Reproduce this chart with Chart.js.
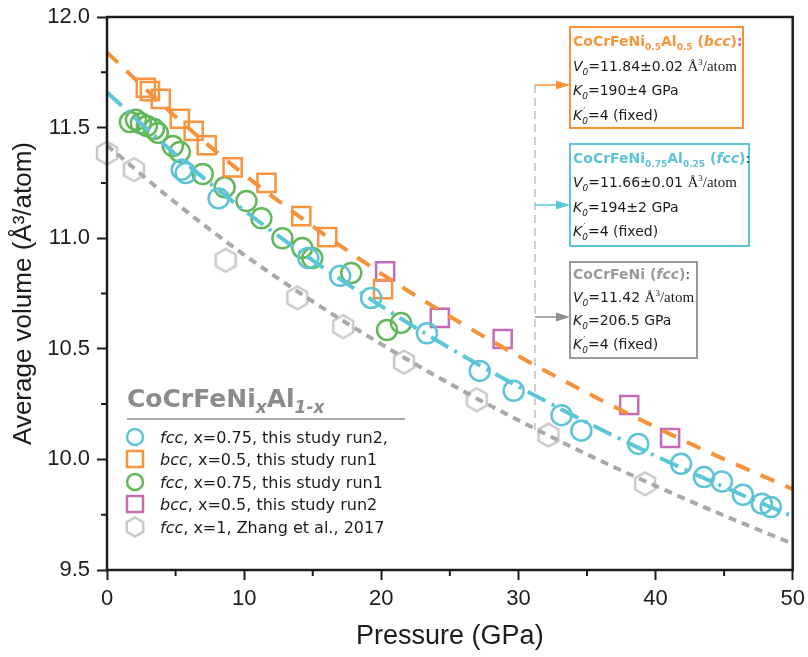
<!DOCTYPE html>
<html><head><meta charset="utf-8">
<script src="https://cdn.jsdelivr.net/npm/chart.js@4.4.0/dist/chart.umd.min.js"></script>
<style>html,body{margin:0;padding:0;background:#fff;}canvas{display:block;}</style>
</head><body>
<canvas id="c" width="808" height="657"></canvas>
<script>
// ---------------- DATA ----------------
const fccRun2P = [5.45, 5.74, 8.14, 14.68, 17.0, 19.26, 23.33, 27.18, 29.65, 33.14, 34.59, 38.74, 41.86, 43.53, 44.84, 46.37, 47.75, 48.40];
const fccRun2V = [11.31, 11.295, 11.18, 10.91, 10.83, 10.73, 10.57, 10.40, 10.31, 10.20, 10.13, 10.07, 9.98, 9.92, 9.90, 9.84, 9.80, 9.785];
const bccRun1P = [2.83, 3.13, 3.92, 5.31, 6.32, 7.27, 9.16, 11.63, 14.17, 16.06, 20.13];
const bccRun1V = [11.68, 11.665, 11.63, 11.54, 11.485, 11.42, 11.32, 11.25, 11.10, 11.005, 10.77];
const fccRun1P = [1.67, 2.11, 2.47, 2.91, 3.42, 3.71, 4.80, 5.31, 6.98, 8.58, 10.17, 11.26, 12.79, 14.24, 14.97, 17.81, 20.42, 21.44];
const fccRun1V = [11.525, 11.535, 11.52, 11.507, 11.494, 11.476, 11.417, 11.39, 11.29, 11.23, 11.168, 11.09, 11.0, 10.956, 10.91, 10.843, 10.585, 10.617];
const bccRun2P = [20.28, 24.27, 28.85, 38.08, 41.06];
const bccRun2V = [10.85, 10.64, 10.544, 10.246, 10.097];
const zhangP = [0, 1.96, 8.65, 13.88, 17.22, 21.66, 26.96, 32.19, 39.24];
const zhangV = [11.385, 11.31, 10.90, 10.73, 10.60, 10.44, 10.27, 10.11, 9.89];
// fitted EOS curves
const fitP = [0, 5, 10, 15, 20, 25, 30, 35, 40, 45, 50];
const fitBccV = [11.84, 11.549, 11.288, 11.054, 10.840, 10.646, 10.467, 10.301, 10.146, 10.001, 9.866];
const fitFccV = [11.66, 11.379, 11.126, 10.900, 10.693, 10.503, 10.329, 10.167, 10.016, 9.875, 9.742];
const fitZhangV = [11.42, 11.160, 10.925, 10.714, 10.521, 10.342, 10.177, 10.023, 9.880, 9.746, 9.619];
const xTicks = [0, 10, 20, 30, 40, 50];
const yTicks = [9.5, 10.0, 10.5, 11.0, 11.5, 12.0];
const xMinor = [5, 15, 25, 35, 45];
const yMinor = [9.75, 10.25, 10.75, 11.25, 11.75];
const legendLabels = [
  ['fcc', ', x=0.75, this study run2,'],
  ['bcc', ', x=0.5, this study run1'],
  ['fcc', ', x=0.75, this study run1'],
  ['bcc', ', x=0.5, this study run2'],
  ['fcc', ', x=1, Zhang et al., 2017']
];

// ---------------- STYLE ----------------
const CYAN = '#5cc4d6', ORANGE = '#f7953f', GREEN = '#62b858', MAGENTA = '#c46cb6', HEX = '#c8c8c8';
const CYANL = '#5ac6d8', ORANGEL = '#f7923a', GRAYL = '#a9a9a9';
const F = '"DejaVu Sans"', SERIF = '"Liberation Serif"', AX = '"Liberation Sans"';
const INK = '#1c1c1c';

function hexCanvas(R, color, lw) {
  const s = Math.ceil(2 * R + lw + 2);
  const c = document.createElement('canvas'); c.width = s; c.height = s;
  const g = c.getContext('2d');
  hexPath(g, s / 2, s / 2, R);
  g.strokeStyle = color; g.lineWidth = lw; g.lineJoin = 'round'; g.stroke();
  return c;
}
function hexPath(g, cx, cy, R) {
  g.beginPath();
  for (let i = 0; i < 6; i++) {
    const a = Math.PI / 2 + i * Math.PI / 3;
    const x = cx + R * Math.cos(a), y = cy - R * Math.sin(a);
    i ? g.lineTo(x, y) : g.moveTo(x, y);
  }
  g.closePath();
}
const hexImg = hexCanvas(11.5, HEX, 2.5);

function pts(P, V) { return P.map((p, i) => ({ x: p, y: V[i] })); }

function runs(ctx, x, y, list) {
  ctx.textBaseline = 'alphabetic'; ctx.textAlign = 'left';
  for (const r of list) {
    ctx.font = r.f; ctx.fillStyle = r.c || INK;
    ctx.fillText(r.t, x + (r.dx || 0), y + (r.dy || 0));
    if (!r.noadv) x += ctx.measureText(r.t).width;
  }
  return x;
}
function arrow(ctx, x1, x2, y, color) {
  ctx.save();
  ctx.strokeStyle = color; ctx.fillStyle = color; ctx.lineWidth = 1.5; ctx.setLineDash([]);
  ctx.beginPath(); ctx.moveTo(x1, y); ctx.lineTo(x2 - 10, y); ctx.stroke();
  ctx.beginPath(); ctx.moveTo(x2, y); ctx.lineTo(x2 - 14, y - 4.5); ctx.lineTo(x2 - 14, y + 4.5); ctx.closePath(); ctx.fill();
  ctx.restore();
}
function boxLines(ctx, x, ys, title, v0, k0) {
  const reg = `14px ${F}`, it = `italic 14px ${F}`, sub = `italic 9px ${F}`;
  runs(ctx, x, ys[0], title);
  runs(ctx, x, ys[1], [
    { t: 'V', f: it }, { t: '0', f: sub, dy: 4 }, { t: '=' + v0 + ' ', f: reg },
    { t: 'Å', f: `15px ${SERIF}` }, { t: '3', f: `9px ${SERIF}`, dy: -6 }, { t: '/atom', f: `15px ${SERIF}` }
  ]);
  runs(ctx, x, ys[2], [{ t: 'K', f: it }, { t: '0', f: sub, dy: 4 }, { t: '=' + k0, f: reg }]);
  runs(ctx, x, ys[3], [{ t: 'K', f: it }, { t: '′', f: `9px ${F}`, dy: -6, dx: 1, noadv: true }, { t: '0', f: sub, dy: 4 }, { t: '=4 (fixed)', f: reg }]);
}

const deco = {
  id: 'deco',
  afterDraw(chart) {
    const ctx = chart.ctx, a = chart.chartArea;
    const xs = chart.scales.x, ys = chart.scales.y;
    ctx.save();
    // frame
    ctx.strokeStyle = INK; ctx.lineWidth = 2.5; ctx.setLineDash([]);
    ctx.strokeRect(a.left, a.top, a.right - a.left, a.bottom - a.top);
    // minor ticks
    ctx.lineWidth = 2;
    ctx.beginPath();
    xMinor.forEach(v => { const p = xs.getPixelForValue(v); ctx.moveTo(p, a.bottom); ctx.lineTo(p, a.bottom + 6); });
    yMinor.forEach(v => { const p = ys.getPixelForValue(v); ctx.moveTo(a.left - 6, p); ctx.lineTo(a.left, p); });
    ctx.stroke();

    // vertical dashed guide + arrows
    ctx.strokeStyle = '#cfcfcf'; ctx.lineWidth = 2; ctx.setLineDash([8, 5]);
    ctx.beginPath(); ctx.moveTo(535, 85); ctx.lineTo(535, 430); ctx.stroke();
    ctx.setLineDash([]);
    arrow(ctx, 535, 570, 85, ORANGEL);
    arrow(ctx, 535, 570, 205, CYANL);
    arrow(ctx, 535, 570, 317, '#8e8e8e');

    // boxes
    ctx.lineWidth = 2;
    ctx.strokeStyle = ORANGEL; ctx.strokeRect(570, 27, 173, 101);
    ctx.strokeStyle = CYANL; ctx.strokeRect(570, 144, 179, 102);
    ctx.strokeStyle = '#9a9a9a'; ctx.strokeRect(570, 262, 127, 96);

    const b = `bold 14px ${F}`, bi = `bold italic 14px ${F}`, bs = `bold 9px ${F}`;
    boxLines(ctx, 573, [46, 71, 95, 120], [
      { t: 'CoCrFeNi', f: b, c: ORANGE }, { t: '0.5', f: bs, c: ORANGE, dy: 4 }, { t: 'Al', f: b, c: ORANGE },
      { t: '0.5', f: bs, c: ORANGE, dy: 4 }, { t: ' (', f: b, c: ORANGE }, { t: 'bcc', f: bi, c: ORANGE },
      { t: ')', f: b, c: ORANGE }, { t: ':', f: b, c: '#e0569c' }
    ], '11.84±0.02', '190±4 GPa');
    boxLines(ctx, 573, [163, 187, 212, 236], [
      { t: 'CoCrFeNi', f: b, c: CYAN }, { t: '0.75', f: bs, c: CYAN, dy: 4 }, { t: 'Al', f: b, c: CYAN },
      { t: '0.25', f: bs, c: CYAN, dy: 4 }, { t: ' (', f: b, c: CYAN }, { t: 'fcc', f: bi, c: CYAN },
      { t: ')', f: b, c: CYAN }, { t: ':', f: `14px ${F}`, c: INK }
    ], '11.66±0.01', '194±2 GPa');
    boxLines(ctx, 573, [279, 302, 325, 349], [
      { t: 'CoCrFeNi (', f: b, c: '#9a9a9a' }, { t: 'fcc', f: bi, c: '#9a9a9a' },
      { t: ')', f: b, c: '#9a9a9a' }, { t: ':', f: `14px ${F}`, c: INK }
    ], '11.42', '206.5 GPa');

    // legend
    const LG = '#8c8c8c';
    runs(ctx, 127, 407, [
      { t: 'CoCrFeNi', f: `bold 25px ${F}`, c: LG }, { t: 'x', f: `bold italic 17px ${F}`, c: LG, dy: 6 },
      { t: 'Al', f: `bold 25px ${F}`, c: LG }, { t: '1-x', f: `bold italic 17px ${F}`, c: LG, dy: 6 }
    ]);
    ctx.strokeStyle = '#aaaaaa'; ctx.lineWidth = 2;
    ctx.beginPath(); ctx.moveTo(127, 419); ctx.lineTo(405, 419); ctx.stroke();
    const rows = [437, 459, 482, 504, 527];
    const mk = ['c', 's', 'c', 's', 'h'], mc = [CYAN, ORANGE, GREEN, MAGENTA, HEX];
    rows.forEach((y, i) => {
      ctx.strokeStyle = mc[i]; ctx.lineWidth = 2.5;
      if (mk[i] === 'c') { ctx.beginPath(); ctx.arc(135, y, 8, 0, Math.PI * 2); ctx.stroke(); }
      else if (mk[i] === 's') { ctx.strokeRect(127, y - 8, 16, 16); }
      else { hexPath(ctx, 135, y, 9.5); ctx.stroke(); }
      runs(ctx, 160, y + 6, [
        { t: legendLabels[i][0], f: `italic 16px ${F}`, c: INK },
        { t: legendLabels[i][1], f: `16px ${F}`, c: INK }
      ]);
    });
    ctx.restore();
  }
};

const lineDs = (V, color, dash) => ({
  data: pts(fitP, V), showLine: true, pointRadius: 0, borderColor: color, borderWidth: 4,
  borderDash: dash, cubicInterpolationMode: 'monotone', fill: false
});
const ptDs = (P, V, style, r, color) => ({
  data: pts(P, V), showLine: false, pointStyle: style, pointRadius: r, pointHoverRadius: r,
  borderColor: color, backgroundColor: 'rgba(0,0,0,0)', pointBorderWidth: 2.5, clip: false
});

new Chart(document.getElementById('c'), {
  type: 'scatter',
  data: {
    datasets: [
      lineDs(fitBccV, ORANGEL, [15, 12]),
      lineDs(fitFccV, CYANL, [20, 7, 3, 7]),
      lineDs(fitZhangV, GRAYL, [8, 6]),
      ptDs(fccRun2P, fccRun2V, 'circle', 10, CYAN),
      ptDs(bccRun1P, bccRun1V, 'rect', 12.8, ORANGE),
      ptDs(fccRun1P, fccRun1V, 'circle', 10, GREEN),
      ptDs(bccRun2P, bccRun2V, 'rect', 12.8, MAGENTA),
      ptDs(zhangP, zhangV, hexImg, 11.5, HEX)
    ]
  },
  options: {
    responsive: false, animation: false, devicePixelRatio: 1,
    layout: { padding: { top: 17, right: 11, left: 0, bottom: 0 } },
    plugins: { legend: { display: false }, tooltip: { enabled: false } },
    scales: {
      x: {
        type: 'linear', min: 0, max: 50,
        afterBuildTicks: s => { s.ticks = xTicks.map(v => ({ value: v })); },
        afterFit: s => { s.height = 87; s.paddingLeft = 0; s.paddingRight = 0; },
        ticks: { font: { family: AX, size: 22 }, color: INK, padding: 6, maxRotation: 0, callback: v => String(v) },
        grid: { drawOnChartArea: false, drawTicks: true, tickLength: 10, tickWidth: 2, tickColor: INK },
        border: { display: false },
        title: { display: true, text: 'Pressure (GPa)', font: { family: AX, size: 27 }, color: INK, padding: { top: 6 } }
      },
      y: {
        type: 'linear', min: 9.5, max: 12,
        afterBuildTicks: s => { s.ticks = yTicks.map(v => ({ value: v })); },
        afterFit: s => { s.width = 107; s.paddingTop = 0; s.paddingBottom = 0; },
        ticks: { font: { family: AX, size: 22 }, color: INK, padding: 7, callback: v => Number(v).toFixed(1) },
        grid: { drawOnChartArea: false, drawTicks: true, tickLength: 10, tickWidth: 2, tickColor: INK },
        border: { display: false },
        title: { display: true, text: 'Average volume (Å³/atom)', font: { family: AX, size: 26 }, color: INK, padding: { top: 8, bottom: 4 } }
      }
    }
  },
  plugins: [deco]
});
</script>
</body></html>
